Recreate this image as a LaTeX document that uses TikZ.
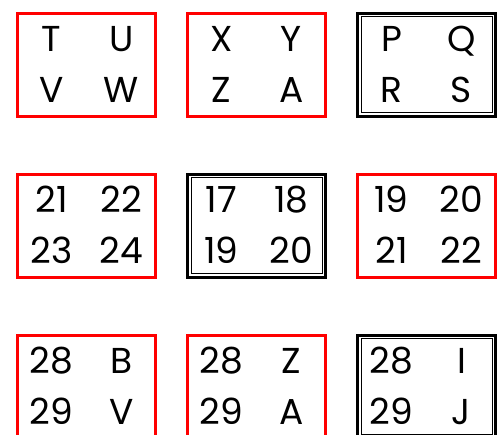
\documentclass[tikz,border=0pt]{standalone}
\usepackage{fontspec}
\setmainfont{Poppins}
\usetikzlibrary{calc}

\begin{document}
\begin{tikzpicture}[x=1pt, y=-1pt,
    redbox/.style={draw=red, line width=3pt, minimum width=138pt, minimum height=103pt, inner sep=0pt, outer sep=0pt},
    blackbox/.style={draw=black, line width=3pt, minimum width=138pt, minimum height=103pt, inner sep=0pt, outer sep=0pt},
    cell/.style={anchor=base, inner sep=0pt, font=\fontsize{36}{36}\selectfont}]
  \clip (0,0) rectangle (504,435);
  % top row
  \node[redbox] (tu) at (86.5,65) {};
  \node[redbox] (xy) at (256.5,65) {};
  \node[blackbox] (pq) at (426.5,65) {};
  % middle row
  \node[redbox] (n21) at (86.5,226) {};
  \node[blackbox] (n17) at (256.5,226) {};
  \node[redbox] (n19) at (426.5,226) {};
  % bottom row, cut off by the page
  \node[redbox] (b28) at (86.5,387) {};
  \node[redbox] (z28) at (256.5,387) {};
  \node[blackbox] (i28) at (426.5,387) {};
  % thin inner frames of the black boxes
  \foreach \b in {pq,n17,i28}
    \draw[line width=1pt] ($(\b.north west)+(3.5,3.5)$) rectangle ($(\b.south east)+(-3.5,-3.5)$);
  % labels
  \node[cell] (tu-a) at ($(tu)+(-35,-13)$) {T};
  \node[cell] (tu-b) at ($(tu)+(35,-13)$) {U};
  \node[cell] (tu-c) at ($(tu)+(-35,38)$) {V};
  \node[cell] (tu-d) at ($(tu)+(35,38)$) {W};
  \node[cell] (xy-a) at ($(xy)+(-35,-13)$) {X};
  \node[cell] (xy-b) at ($(xy)+(35,-13)$) {Y};
  \node[cell] (xy-c) at ($(xy)+(-35,38)$) {Z};
  \node[cell] (xy-d) at ($(xy)+(35,38)$) {A};
  \node[cell] (pq-a) at ($(pq)+(-35,-13)$) {P};
  \node[cell] (pq-b) at ($(pq)+(35,-13)$) {Q};
  \node[cell] (pq-c) at ($(pq)+(-35,38)$) {R};
  \node[cell] (pq-d) at ($(pq)+(35,38)$) {S};
  \node[cell] (n21-a) at ($(n21)+(-35,-13)$) {21};
  \node[cell] (n21-b) at ($(n21)+(35,-13)$) {22};
  \node[cell] (n21-c) at ($(n21)+(-35,38)$) {23};
  \node[cell] (n21-d) at ($(n21)+(35,38)$) {24};
  \node[cell] (n17-a) at ($(n17)+(-35,-13)$) {17};
  \node[cell] (n17-b) at ($(n17)+(35,-13)$) {18};
  \node[cell] (n17-c) at ($(n17)+(-35,38)$) {19};
  \node[cell] (n17-d) at ($(n17)+(35,38)$) {20};
  \node[cell] (n19-a) at ($(n19)+(-35,-13)$) {19};
  \node[cell] (n19-b) at ($(n19)+(35,-13)$) {20};
  \node[cell] (n19-c) at ($(n19)+(-35,38)$) {21};
  \node[cell] (n19-d) at ($(n19)+(35,38)$) {22};
  \node[cell] (b28-a) at ($(b28)+(-35,-13)$) {28};
  \node[cell] (b28-b) at ($(b28)+(35,-13)$) {B};
  \node[cell] (b28-c) at ($(b28)+(-35,38)$) {29};
  \node[cell] (b28-d) at ($(b28)+(35,38)$) {V};
  \node[cell] (z28-a) at ($(z28)+(-35,-13)$) {28};
  \node[cell] (z28-b) at ($(z28)+(35,-13)$) {Z};
  \node[cell] (z28-c) at ($(z28)+(-35,38)$) {29};
  \node[cell] (z28-d) at ($(z28)+(35,38)$) {A};
  \node[cell] (i28-a) at ($(i28)+(-35,-13)$) {28};
  \node[cell] (i28-b) at ($(i28)+(35,-13)$) {I};
  \node[cell] (i28-c) at ($(i28)+(-35,38)$) {29};
  \node[cell] (i28-d) at ($(i28)+(35,38)$) {J};
\end{tikzpicture}
\end{document}
